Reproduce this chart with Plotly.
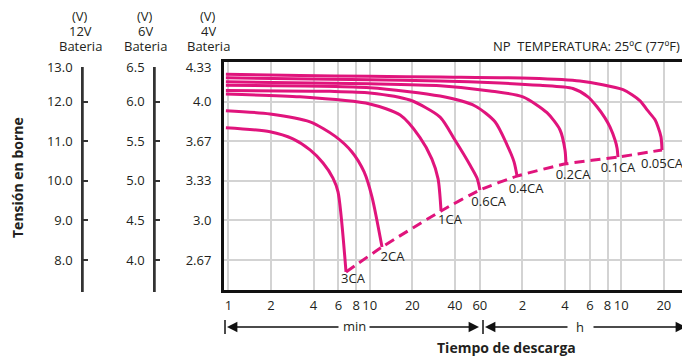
import plotly.graph_objects as go

# ---------------- data ----------------
# discharge time in minutes, terminal voltage in 12 V battery units
t_3CA = [0.96, 1.97, 2.86, 3.78, 4.67, 5.49, 5.96, 6.79]
v_3CA = [11.34, 11.24, 11.06, 10.78, 10.45, 10.07, 9.72, 7.70]

t_2CA = [0.96, 1.97, 3.78, 5.67, 7.48, 9.1, 10.37, 12.2]
v_2CA = [11.77, 11.69, 11.49, 11.13, 10.73, 10.23, 9.59, 8.33]

t_1CA = [0.96, 3.21, 10.0, 16.4, 22.6, 27.5, 30.4, 31.9]
v_1CA = [12.19, 12.12, 11.94, 11.66, 11.10, 10.55, 10.05, 9.24]

t_06CA = [0.96, 5.23, 10.0, 19.2, 31.4, 40.0, 51.1, 57.3, 60.1]
v_06CA = [12.28, 12.26, 12.22, 12.04, 11.61, 11.03, 10.40, 10.07, 9.77]

t_04CA = [0.96, 10.0, 31.4, 55.5, 76.8, 93.4, 104.7, 110]
v_04CA = [12.41, 12.35, 12.14, 11.89, 11.49, 10.91, 10.48, 10.12]

t_02CA = [0.96, 10.0, 31.4, 70.8, 121, 179, 221, 240, 244]
v_02CA = [12.50, 12.45, 12.40, 12.27, 12.12, 11.72, 11.29, 10.78, 10.43]

t_01CA = [0.96, 10.0, 31.4, 83.3, 160, 273, 349, 404, 460, 499, 542, 560, 569]
v_01CA = [12.60, 12.55, 12.52, 12.47, 12.41, 12.33, 12.12, 11.87, 11.59, 11.36, 11.03, 10.83, 10.60]

t_005CA = [0.96, 3.21, 10.0, 31.4, 136, 306, 618, 815, 914, 1040, 1092, 1146, 1165]
v_005CA = [12.69, 12.66, 12.64, 12.62, 12.59, 12.52, 12.30, 12.02, 11.79, 11.54, 11.36, 11.11, 10.78]

rates = ["3CA", "2CA", "1CA", "0.6CA", "0.4CA", "0.2CA", "0.1CA", "0.05CA"]
label_t = [7.61, 14.47, 36.9, 69.3, 127.3, 273.5, 569, 1165]
label_v = [7.50, 8.05, 8.99, 9.44, 9.78, 10.13, 10.30, 10.40]

x_tickvals = [1, 2, 4, 6, 8, 10, 20, 40, 60, 120, 240, 360, 480, 600, 1200]
x_ticktext = ["1", "2", "4", "6", "8", "10", "20", "40", "60", "2", "4", "6", "8", "10", "20"]

grid_vals = [12, 11, 10, 9, 8]
label_vals = [12.87, 12, 11, 10, 9, 8]
ticks_12v = ["13.0", "12.0", "11.0", "10.0", "9.0", "8.0"]
ticks_6v = ["6.5", "6.0", "5.5", "5.0", "4.5", "4.0"]
ticks_4v = ["4.33", "4.0", "3.67", "3.33", "3.0", "2.67"]

# ---------------- style ----------------
OX, OY = 8, 8            # page body margin of the html
W, H = 690 - OX, 361 - OY
MAG = "#E0147C"
TXT = "#231F20"
FONT = "Open Sans"


def px(x):
    return (x - OX) / W


def py(y):
    return 1 - (y - OY) / H


curves = [(t_3CA, v_3CA), (t_2CA, v_2CA), (t_1CA, v_1CA), (t_06CA, v_06CA),
          (t_04CA, v_04CA), (t_02CA, v_02CA), (t_01CA, v_01CA), (t_005CA, v_005CA)]

fig = go.Figure()
for (t, v), name in zip(curves, rates):
    fig.add_trace(go.Scatter(x=t, y=v, mode="lines", name=name,
                             line=dict(color=MAG, width=3, shape="spline", smoothing=0.7),
                             hoverinfo="skip", showlegend=False))

end_t = [c[0][-1] for c in curves]
end_v = [c[1][-1] for c in curves]
fig.add_trace(go.Scatter(x=end_t, y=end_v, mode="lines",
                         line=dict(color=MAG, width=3, dash="10px,6px", shape="spline", smoothing=0.5),
                         hoverinfo="skip", showlegend=False))

fig.add_trace(go.Scatter(x=label_t, y=label_v, mode="text", text=rates,
                         textfont=dict(family=FONT, size=13, color=TXT),
                         textposition="middle center", hoverinfo="skip", showlegend=False))

# placeholder traces so that the extra axes are drawn
for ya, xa in [("y2", "x2"), ("y3", "x3"), ("y4", "x")]:
    fig.add_trace(go.Scatter(x=[None], y=[None], xaxis=xa, yaxis=ya, showlegend=False, hoverinfo="skip"))

x0, x1 = 224, 687
y0, y1 = 62, 290
yr = [7.245, 13.0]
yr2 = [7.194, 12.876]

hidden_x = dict(showticklabels=False, showline=False, showgrid=False, zeroline=False,
                ticks="", range=[0, 1])
side_axis = dict(range=yr2, tickvals=label_vals + [7.2],
                 ticks="inside", ticklen=5, tickwidth=1.5, tickcolor="#333",
                 showline=True, linecolor="#333", linewidth=1.5, showgrid=False, zeroline=False,
                 tickfont=dict(size=13, color=TXT), ticklabelstandoff=6,
                 domain=[py(292), py(67)])

fig.update_layout(
    width=W, height=H,
    margin=dict(l=0, r=0, t=0, b=0, autoexpand=False),
    paper_bgcolor="white", plot_bgcolor="rgba(0,0,0,0)",
    font=dict(family=FONT, size=13, color=TXT),
    xaxis=dict(type="log", domain=[px(x0), px(x1)], range=[-0.031, 3.243],
               tickvals=x_tickvals, ticktext=x_ticktext, ticks="",
               showgrid=True, gridcolor="#D3D3D3", gridwidth=1.5,
               showline=True, linecolor="#111", linewidth=3, mirror=True,
               zeroline=False, tickfont=dict(size=13, color=TXT), ticklabelstandoff=1),
    yaxis=dict(domain=[py(y1), py(y0)], range=yr, tickvals=label_vals, ticktext=ticks_4v,
               ticks="", showgrid=False, zeroline=False,
               showline=True, linecolor="#111", linewidth=3, mirror=True,
               tickfont=dict(size=13, color=TXT), ticklabelstandoff=7),
    yaxis4=dict(overlaying="y", range=yr, tickvals=grid_vals, showticklabels=False,
                ticks="", showgrid=True, gridcolor="#D3D3D3", gridwidth=1.5, zeroline=False,
                showline=False),
    xaxis2=dict(domain=[px(83), px(84)], anchor="y2", **hidden_x),
    xaxis3=dict(domain=[px(155), px(156)], anchor="y3", **hidden_x),
    yaxis2=dict(anchor="x2", side="left", ticktext=ticks_12v + [""], **side_axis),
    yaxis3=dict(anchor="x3", side="left", ticktext=ticks_6v + [""], **side_axis),
)

ann = []
# battery headers (one line each, compact boxes)
for cx, lines in [(80, ["(V)", "12V", "Bateria"]), (145, ["(V)", "6V", "Bateria"]), (208, ["(V)", "4V", "Bateria"])]:
    for cy, s in zip([15.5, 30.5, 45.5], lines):
        ann.append(dict(x=px(cx), y=py(cy), xref="paper", yref="paper", text=s, showarrow=False,
                        xanchor="center", yanchor="middle", valign="middle", height=15, borderpad=0,
                        font=dict(size=13, color=TXT)))
ann.append(dict(x=px(682), y=py(46.5), xref="paper", yref="paper",
                text="NP\u00a0 TEMPERATURA: 25ºC (77ºF)", showarrow=False,
                xanchor="right", yanchor="middle", font=dict(size=13, color=TXT)))
ann.append(dict(x=px(17), y=py(178), xref="paper", yref="paper", text="<b>Tensión en borne</b>",
                textangle=-90, showarrow=False, xanchor="center", yanchor="middle",
                font=dict(size=14, color=TXT)))
ann.append(dict(x=px(506), y=py(347), xref="paper", yref="paper", text="<b>Tiempo de descarga</b>",
                showarrow=False, xanchor="center", yanchor="middle", font=dict(size=14, color=TXT)))
ann.append(dict(x=px(354), y=py(326), xref="paper", yref="paper", text="min",
                showarrow=False, xanchor="center", yanchor="middle", font=dict(size=13, color=TXT)))
ann.append(dict(x=px(580), y=py(327), xref="paper", yref="paper", text="h",
                showarrow=False, xanchor="center", yanchor="middle", font=dict(size=13, color=TXT)))

AY = 327
# arrows: (head_x, tail_x)
for hx, tx in [(227, 340), (479, 368), (485, 569), (686, 592)]:
    ann.append(dict(x=px(hx), y=py(AY), xref="paper", yref="paper", text="", showarrow=True,
                    ax=tx - hx, ay=0, axref="pixel", ayref="pixel",
                    arrowhead=2, arrowsize=1.6, arrowwidth=1.3, arrowcolor="#111", standoff=0))
fig.update_layout(annotations=ann)

shapes = []
for bx in [225, 483, 687]:
    shapes.append(dict(type="line", xref="paper", yref="paper", x0=px(bx), x1=px(bx),
                       y0=py(320), y1=py(334), line=dict(color="#111", width=1.5)))
# spines of the 12 V and 6 V scales
for bx, yref in [(83, "y2 domain"), (155, "y3 domain")]:
    shapes.append(dict(type="line", xref="paper", yref=yref, x0=px(bx), x1=px(bx),
                       y0=0, y1=1, line=dict(color="#333", width=1.5)))
fig.update_layout(shapes=shapes)

fig.write_html("out.html")
